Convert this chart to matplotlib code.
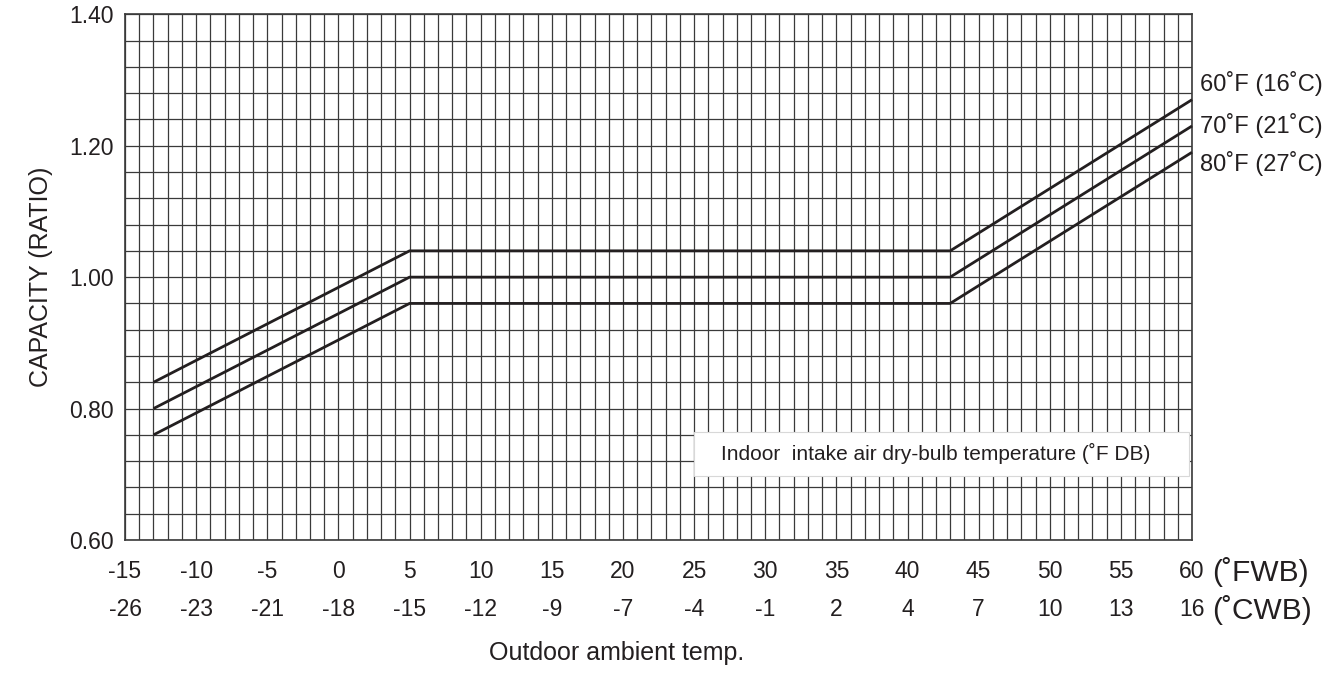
import matplotlib
matplotlib.use("Agg")
import matplotlib.pyplot as plt
from matplotlib.patches import Rectangle

plt.rcParams['font.family'] = ['Liberation Sans', 'DejaVu Sans']

# outdoor wet-bulb temperature break points (deg F WB)
outdoor_f = [-13, 5, 43, 60]
# capacity ratio for each indoor dry-bulb temperature
cap_60f = [0.84, 1.04, 1.04, 1.27]
cap_70f = [0.80, 1.00, 1.00, 1.23]
cap_80f = [0.76, 0.96, 0.96, 1.19]
curve_labels = ["60˚F (16˚C)", "70˚F (21˚C)", "80˚F (27˚C)"]
label_y = [1.295, 1.231, 1.173]

fwb_ticks = list(range(-15, 61, 5))
cwb_labels = ["-26", "-23", "-21", "-18", "-15", "-12", "-9", "-7",
              "-4", "-1", "2", "4", "7", "10", "13", "16"]
y_ticks = [0.60, 0.80, 1.00, 1.20, 1.40]

line_col = "#231f20"
grid_col = "#3a3a3a"

fig = plt.figure(figsize=(13.43, 6.78), dpi=100)
ax = fig.add_axes([0.0931, 0.2035, 0.7945, 0.7755])

ax.set_xlim(-15, 60)
ax.set_ylim(0.60, 1.40)

# fine grid: every 1 deg F, every 0.04 ratio
for x in range(-15, 61):
    ax.axvline(x, color=grid_col, lw=0.9, zorder=1)
for i in range(21):
    ax.axhline(0.60 + 0.04 * i, color=grid_col, lw=0.9, zorder=1)

for caps in (cap_60f, cap_70f, cap_80f):
    ax.plot(outdoor_f, caps, color=line_col, lw=2.0, zorder=4,
            solid_capstyle="butt", clip_on=False)

for txt, yy in zip(curve_labels, label_y):
    ax.text(60.55, yy, txt, fontsize=17, color=line_col,
            ha="left", va="center", clip_on=False)

# note box covering the grid
ax.add_patch(Rectangle((25, 0.698), 34.8, 0.066, facecolor="white",
                       edgecolor="#d8d8d8", lw=0.8, zorder=3))
ax.text(42.0, 0.731, "Indoor  intake air dry-bulb temperature (˚F DB)",
        fontsize=15, color=line_col, ha="center", va="center", zorder=5)

ax.set_xticks(fwb_ticks)
ax.set_xticklabels([])
ax.set_yticks(y_ticks)
ax.set_yticklabels([f"{v:.2f}" for v in y_ticks], fontsize=16.5, color=line_col)
ax.tick_params(axis="both", length=0, pad=8)

trans = ax.get_xaxis_transform()
for f, c in zip(fwb_ticks, cwb_labels):
    ax.text(f, -0.06, str(f), transform=trans, fontsize=16.5,
            color=line_col, ha="center", va="center")
    ax.text(f, -0.133, c, transform=trans, fontsize=16.5,
            color=line_col, ha="center", va="center")
ax.text(61.4, -0.06, "(˚FWB)", transform=trans, fontsize=21.5, color=line_col,
        ha="left", va="center")
ax.text(61.4, -0.133, "(˚CWB)", transform=trans, fontsize=21.5, color=line_col,
        ha="left", va="center")

for s in ax.spines.values():
    s.set_color(grid_col)
    s.set_linewidth(1.2)

ax.set_ylabel("CAPACITY (RATIO)", fontsize=18, color=line_col, labelpad=12)
fig.text(0.459, 0.037, "Outdoor ambient temp.", fontsize=18, color=line_col,
         ha="center", va="center")

fig.savefig("out.png", dpi=100)
